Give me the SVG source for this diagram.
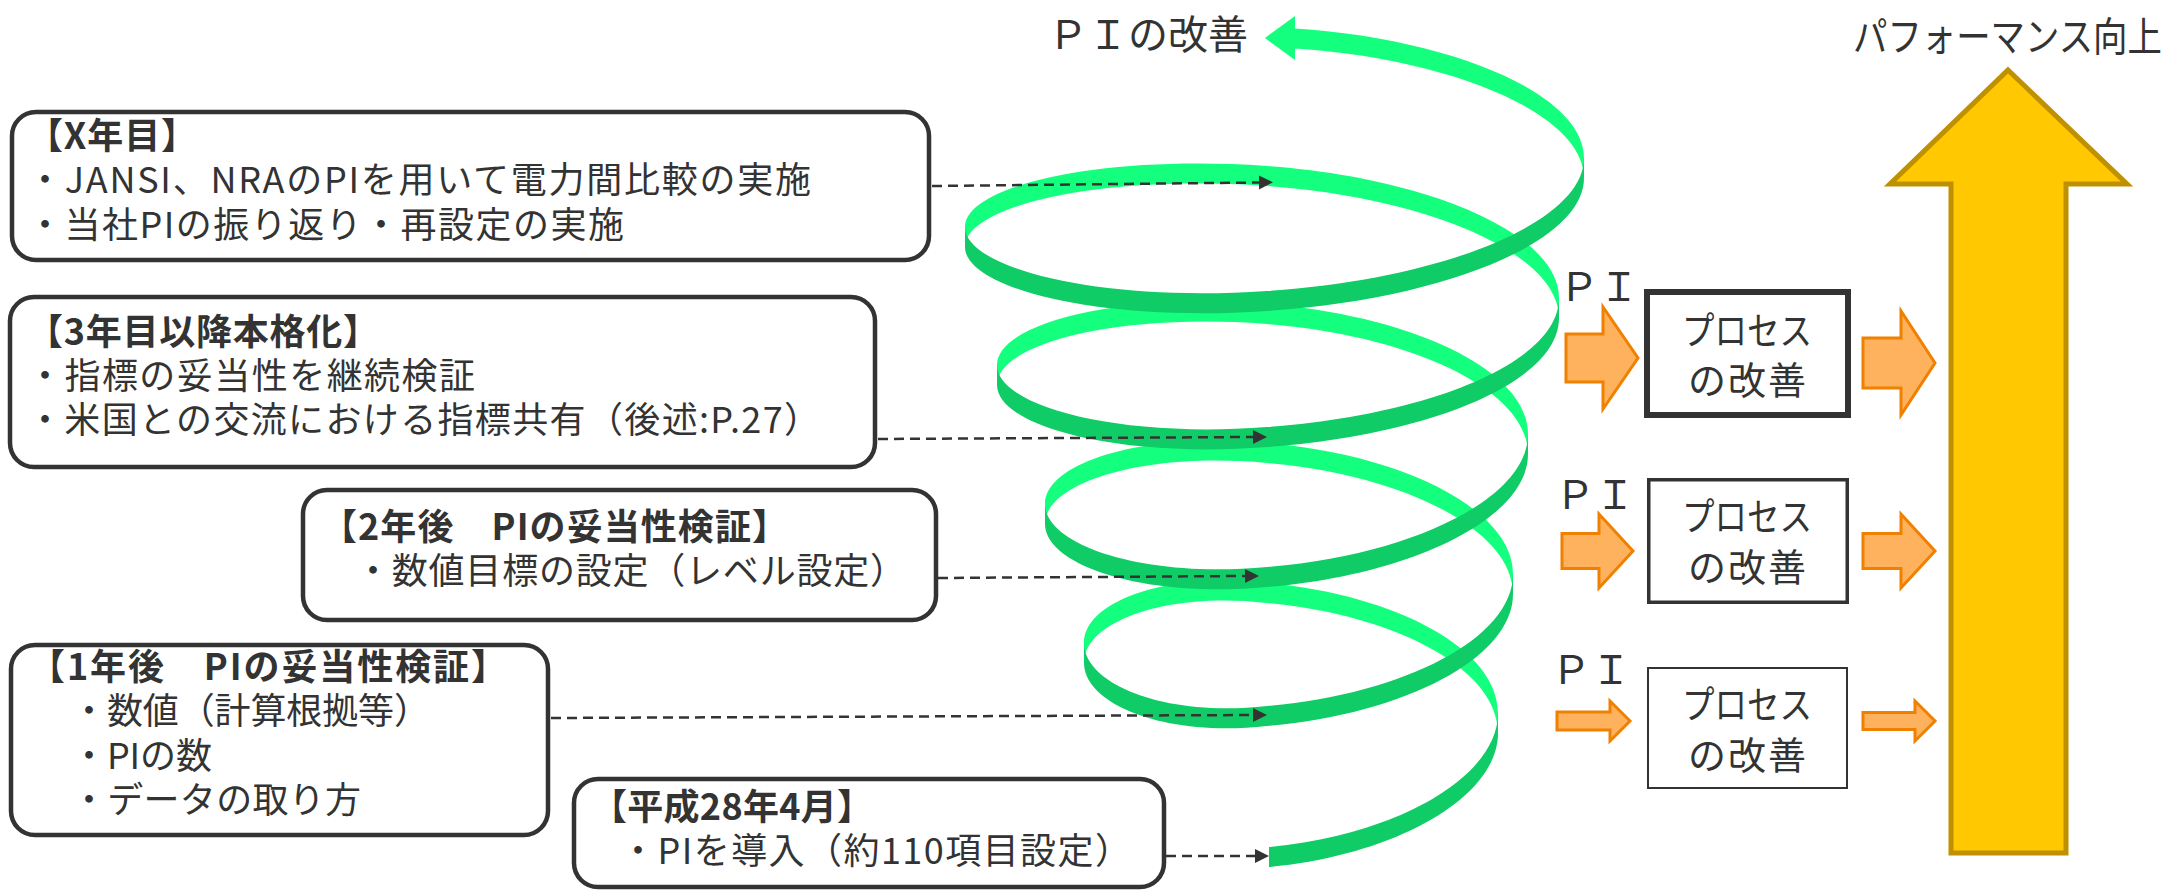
<svg xmlns="http://www.w3.org/2000/svg" width="2166" height="890" viewBox="0 0 2166 890">
<defs>
<style>
.box{fill:#fff;stroke:#333;stroke-width:4.5}
.t{font-family:"Noto Sans CJK JP","Noto Sans",sans-serif;fill:#333;font-size:36px}
.b{font-weight:bold}
.back{fill:#14FF7E}
.front{fill:#10CC66}
.oa{fill:#FFB25E;stroke:#F08000;stroke-width:3}
.pb{fill:#fff;stroke:#333}
.pt{font-size:38px}
.pi{font-size:40px}
.conn{fill:none;stroke:#333;stroke-width:2.5;stroke-dasharray:10 6}
</style>
<marker id="ah" markerUnits="userSpaceOnUse" markerWidth="14" markerHeight="14" viewBox="0 0 14 14" refX="0" refY="7" orient="auto" overflow="visible">
<path d="M0,0 L14,7 L0,14 Z" fill="#333"/>
</marker>
</defs>
<rect width="2166" height="890" fill="#fff"/>

<g id="spiral">
<path class="back" d="M1584,158 C1584,93.4 1450,38.5 1295,28.5 L1295,48.5 C1450,58.5 1584,113.4 1584,178 Z"/>
<path class="back" d="M1559,298 C1559,233.4 1428.3,177.6 1267,166 C1100.2,154.4 965,185.6 965,227 L965,247 C965,205.6 1100.2,174.4 1267,186 C1428.3,197.6 1559,253.4 1559,318 Z"/>
<path class="back" d="M1528,434 C1528,369.4 1411.1,315.6 1267,304 C1117.9,292.4 997,323.6 997,365 L997,385 C997,343.6 1117.9,312.4 1267,324 C1411.1,335.6 1528,389.4 1528,454 Z"/>
<path class="back" d="M1513,574 C1513,509.4 1402.9,454.6 1267,443 C1144.4,431.4 1045,462.6 1045,504 L1045,524 C1045,482.6 1144.4,451.4 1267,463 C1402.9,474.6 1513,529.4 1513,594 Z"/>
<path class="back" d="M1498,713 C1498,648.4 1394.6,594.6 1267,583 C1165.9,571.4 1084,601.6 1084,643 L1084,663 C1084,621.6 1165.9,591.4 1267,603 C1394.6,614.6 1498,668.4 1498,733 Z"/>
<polygon class="back" points="1265,38 1295,16 1295,60"/>
<path class="front" d="M1269,847 C1395,835.4 1498,777.6 1498,713 L1498,733 C1498,797.6 1395,855.4 1269,867 Z"/>
<path class="front" d="M1084,643 C1084,684.4 1165.9,717.6 1267,706 C1402.9,694.4 1513,638.6 1513,574 L1513,594 C1513,658.6 1402.9,714.4 1267,726 C1165.9,737.6 1084,704.4 1084,663 Z"/>
<path class="front" d="M1045,504 C1045,545.4 1144.4,578.6 1267,567 C1411.1,555.4 1528,498.6 1528,434 L1528,454 C1528,518.6 1411.1,575.4 1267,587 C1144.4,598.6 1045,565.4 1045,524 Z"/>
<path class="front" d="M997,365 C997,406.4 1117.9,438.6 1267,427 C1428.3,415.4 1559,362.6 1559,298 L1559,318 C1559,382.6 1428.3,435.4 1267,447 C1117.9,458.6 997,426.4 997,385 Z"/>
<path class="front" d="M965,227 C965,268.4 1100.2,302.6 1267,291 C1442.1,279.4 1584,222.6 1584,158 L1584,178 C1584,242.6 1442.1,299.4 1267,311 C1100.2,322.6 965,288.4 965,247 Z"/>
</g>
<text class="t pi" x="1048" y="49">ＰＩの改善</text>

<g id="box-x">
<rect class="box" x="12" y="112" width="917" height="148" rx="24"/>
<text class="t b" x="27" y="149" textLength="170">【X年目】</text>
<text class="t" x="27" y="193" textLength="784">・JANSI、NRAのPIを用いて電力間比較の実施</text>
<text class="t" x="27" y="238" textLength="597">・当社PIの振り返り・再設定の実施</text>
</g>
<g id="box-3y">
<rect class="box" x="10" y="297" width="865" height="170" rx="24"/>
<text class="t b" x="27" y="345" textLength="352">【3年目以降本格化】</text>
<text class="t" x="27" y="389" textLength="448">・指標の妥当性を継続検証</text>
<text class="t" x="27" y="433" textLength="793">・米国との交流における指標共有（後述:P.27）</text>
</g>
<g id="box-2y">
<rect class="box" x="303" y="490" width="633" height="130" rx="24"/>
<text class="t b" x="321" y="540" textLength="467">【2年後　PIの妥当性検証】</text>
<text class="t" x="355" y="584" textLength="551">・数値目標の設定（レベル設定）</text>
</g>
<g id="box-1y">
<rect class="box" x="11" y="645" width="537" height="190" rx="24"/>
<text class="t b" x="29" y="680" textLength="478">【1年後　PIの妥当性検証】</text>
<text class="t" x="71" y="724" textLength="359">・数値（計算根拠等）</text>
<text class="t" x="71" y="769" textLength="141">・PIの数</text>
<text class="t" x="71" y="813" textLength="290">・データの取り方</text>
</g>
<g id="box-h28">
<rect class="box" x="574" y="779" width="590" height="108" rx="24"/>
<text class="t b" x="591" y="820" textLength="282">【平成28年4月】</text>
<text class="t" x="620" y="864" textLength="511">・PIを導入（約110項目設定）</text>
</g>

<g id="connectors">
<path class="conn" d="M932,186 L1259,182.5" marker-end="url(#ah)"/>
<path class="conn" d="M878,439 L1253,437" marker-end="url(#ah)"/>
<path class="conn" d="M938,578 L1245,576" marker-end="url(#ah)"/>
<path class="conn" d="M551,718 L1253,715" marker-end="url(#ah)"/>
<path class="conn" d="M1166,856 L1255,856" marker-end="url(#ah)"/>
</g>

<g id="process-1">
<text class="t pi" x="1559" y="301">ＰＩ</text>
<polygon class="oa" points="1566,334 1603,334 1603,307 1638,358 1603,409 1603,382 1566,382"/>
<rect class="pb" x="1647" y="292" width="201" height="123" stroke-width="6"/>
<text class="t pt" transform="translate(1682,344) scale(0.855,1)">プロセス</text>
<text class="t pt" x="1688" y="394" textLength="118">の改善</text>
<polygon class="oa" points="1863,338 1901,338 1901,311 1935,363 1901,415 1901,388 1863,388"/>
</g>
<g id="process-2">
<text class="t pi" x="1555" y="509">ＰＩ</text>
<polygon class="oa" points="1562,533.5 1599,533.5 1599,514 1633,551 1599,588 1599,568.5 1562,568.5"/>
<rect class="pb" x="1648.75" y="479.75" width="198.5" height="122.5" stroke-width="3.5"/>
<text class="t pt" transform="translate(1682,530) scale(0.855,1)">プロセス</text>
<text class="t pt" x="1688" y="581" textLength="118">の改善</text>
<polygon class="oa" points="1863,533.5 1901,533.5 1901,514 1935,551 1901,588 1901,568.5 1863,568.5"/>
</g>
<g id="process-3">
<text class="t pi" x="1551" y="684">ＰＩ</text>
<polygon class="oa" points="1557,712 1610,712 1610,701 1630,721 1610,741 1610,730 1557,730"/>
<rect class="pb" x="1648" y="668" width="199" height="120" stroke-width="2"/>
<text class="t pt" transform="translate(1682,718) scale(0.855,1)">プロセス</text>
<text class="t pt" x="1688" y="769" textLength="118">の改善</text>
<polygon class="oa" points="1863,712.5 1915,712.5 1915,701 1935,721 1915,741 1915,729.5 1863,729.5"/>
</g>

<g id="performance">
<polygon points="2008,70 2127,184 2066,184 2066,853 1951,853 1951,184 1890,184" fill="#FFC800" stroke="#BF9000" stroke-width="5"/>
<text class="t" transform="translate(1853,51) scale(0.86,1)" style="font-size:40px">パフォーマンス向上</text>
</g>
</svg>
